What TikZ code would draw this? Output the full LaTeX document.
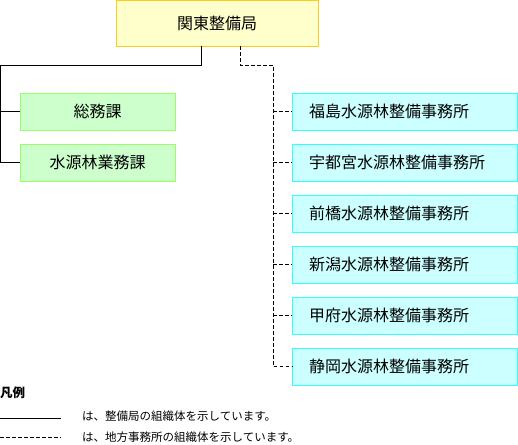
\documentclass[tikz,border=0pt]{standalone}
\usepackage{fontspec}
\setmainfont{Noto Sans CJK JP}
\newfontfamily\cjk{Noto Sans CJK JP}
\begin{document}
\begin{tikzpicture}[x=1pt,y=1pt,
  hq/.style={draw=yellow!60!orange!90!white, fill={rgb,255:red,255;green,255;blue,204}, line width=0.9pt, minimum width=202pt, minimum height=46pt, font=\cjk\fontsize{16}{18}\selectfont, inner sep=0pt},
  sect/.style={draw={rgb,255:red,153;green,255;blue,102}, fill={rgb,255:red,204;green,255;blue,204}, line width=0.9pt, minimum width=155pt, minimum height=37pt, font=\cjk\fontsize{16}{18}\selectfont, inner sep=0pt},
  office/.style={draw={rgb,255:red,51;green,255;blue,255}, fill={rgb,255:red,204;green,255;blue,255}, line width=0.9pt, text width=191pt, align=left, inner xsep=17pt, inner ysep=0pt, minimum height=37pt, font=\cjk\fontsize{16}{18}\selectfont},
  solidln/.style={draw=black, line width=0.8pt},
  dashln/.style={draw=black, line width=0.8pt, dash pattern=on 3.5pt off 2.5pt},
  legtext/.style={anchor=west, inner sep=0pt, font=\cjk\fontsize{11.5}{14}\selectfont}
]
\useasboundingbox (0,0) rectangle (518,-444);
\node[hq] (top) at (217,-23) {関東整備局};
\node[sect] (g1) at (97.5,-111.5) {総務課};
\node[sect] (g2) at (97.5,-162.5) {水源林業務課};
\node[office] (c1) at (404.5,-111.5) {福島水源林整備事務所};
\node[office] (c2) at (404.5,-162.5) {宇都宮水源林整備事務所};
\node[office] (c3) at (404.5,-213.5) {前橋水源林整備事務所};
\node[office] (c4) at (404.5,-264.5) {新潟水源林整備事務所};
\node[office] (c5) at (404.5,-315.5) {甲府水源林整備事務所};
\node[office] (c6) at (404.5,-366.5) {静岡水源林整備事務所};
% solid tree
\coordinate (sa) at (201,-46);
\coordinate (sb) at (201,-65);
\coordinate (sc) at (0.5,-65);
\coordinate (sd) at (0.5,-162.5);
\draw[solidln] (sa) -- (sb) -- (sc) -- (sd) -- (g2.west);
\draw[solidln] (g1.west -| sc) -- (g1.west);
% dashed tree
\coordinate (da) at (240,-46);
\coordinate (db) at (240,-65);
\coordinate (dc) at (273,-65);
\coordinate (dd) at (273,-366.5);
\draw[dashln] (da) -- (db) -- (dc) -- (dd) -- (c6.west);
\foreach \n in {c1,c2,c3,c4,c5} \draw[dashln] (\n.west -| dc) -- (\n.west);
% legend
\node[anchor=west, inner sep=0pt, font=\cjk\bfseries\fontsize{12.5}{14}\selectfont] (leg) at (0,-393) {凡例};
\coordinate (l1a) at (0,-418);
\coordinate (l1b) at (61,-418);
\coordinate (l2a) at (0,-437);
\coordinate (l2b) at (61,-437);
\draw[solidln] (l1a) -- (l1b);
\draw[line width=0.8pt, dash pattern=on 3.6pt off 2.4pt] (l2a) -- (l2b);
\node[legtext] (t1) at (82,-416) {は、整備局の組織体を示しています。};
\node[legtext] (t2) at (82,-437) {は、地方事務所の組織体を示しています。};
\end{tikzpicture}
\end{document}
